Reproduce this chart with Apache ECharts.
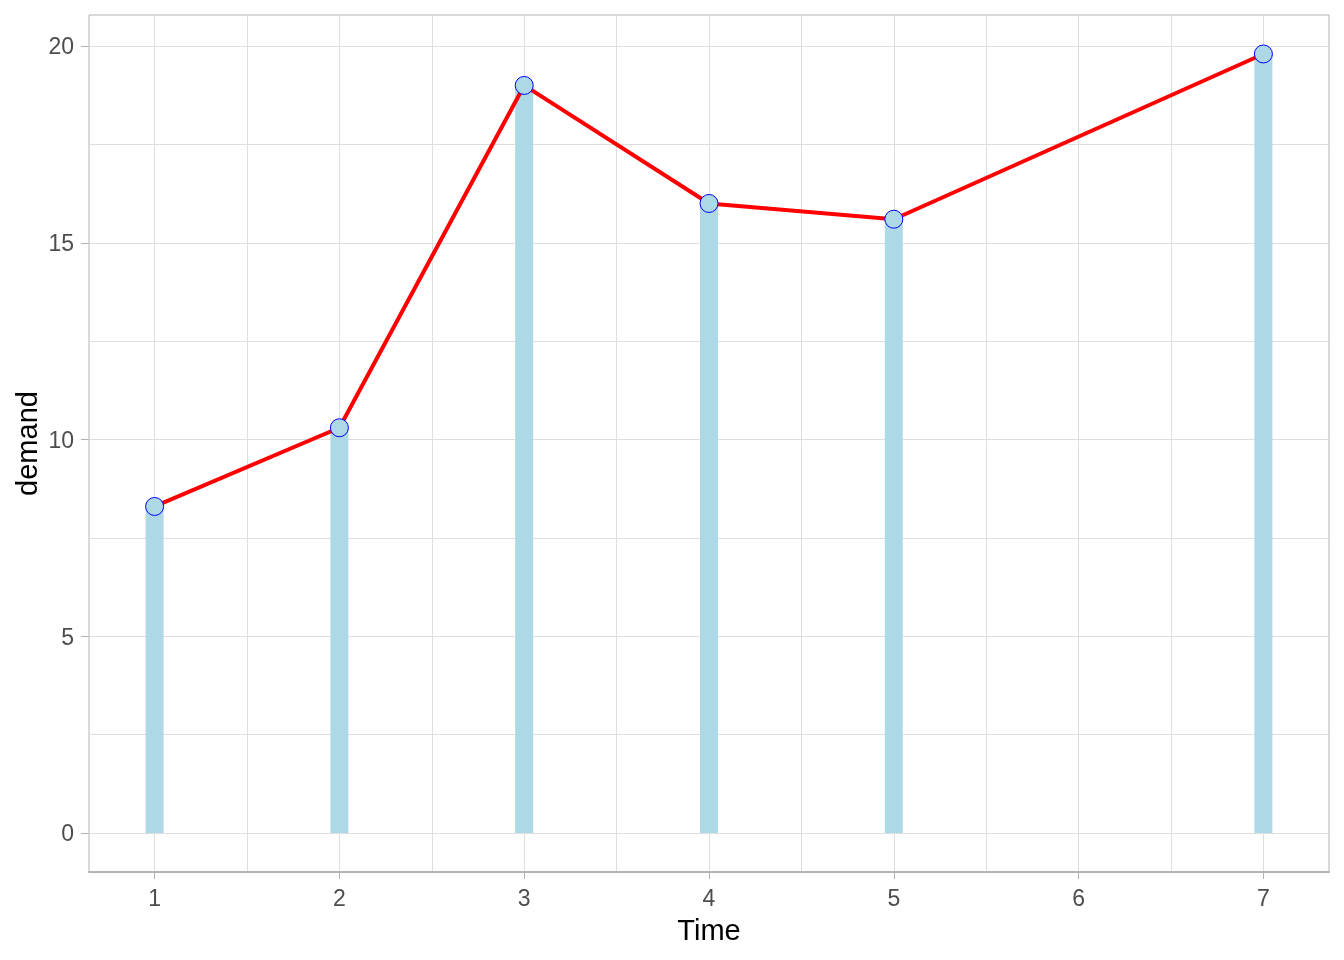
<!DOCTYPE html>
<html>
<head>
<meta charset="utf-8">
<script src="https://cdn.jsdelivr.net/npm/echarts@6/dist/echarts.min.js"></script>
<style>html,body{margin:0;padding:0;background:#fff}#c{width:1344px;height:960px}</style>
</head>
<body>
<div id="c"></div>
<script>
const time = [1, 2, 3, 4, 5, 7];
const demand = [8.3, 10.3, 19.0, 16.0, 15.6, 19.8];
const xMajor = [1, 2, 3, 4, 5, 6, 7];
const xMinor = [1.5, 2.5, 3.5, 4.5, 5.5, 6.5];
const yMajor = [0, 5, 10, 15, 20];
const yMinor = [2.5, 7.5, 12.5, 17.5];

const pts = time.map((t, i) => [t, demand[i]]);
const font = "'Liberation Sans', Arial, sans-serif";
const grid = [];
xMajor.forEach(v => grid.push({xAxis: v}));
xMinor.forEach(v => grid.push({xAxis: v}));
yMajor.forEach(v => grid.push({yAxis: v}));
yMinor.forEach(v => grid.push({yAxis: v}));

const chart = echarts.init(document.getElementById('c'), null, {renderer: 'canvas'});
chart.setOption({
  animation: false,
  backgroundColor: '#ffffff',
  grid: {left: 89, right: 15, top: 15, bottom: 88, show: true, borderColor: '#B3B3B3', borderWidth: 1, backgroundColor: 'transparent'},
  xAxis: {
    type: 'value', min: 0.645, max: 7.355,
    name: 'Time', nameLocation: 'middle', nameGap: 45, nameMoveOverlap: false,
    nameTextStyle: {color: '#000', fontSize: 29, fontFamily: font},
    axisLine: {show: true, onZero: false, lineStyle: {color: '#B3B3B3', width: 2}},
    axisTick: {show: true, length: 7, customValues: xMajor, lineStyle: {color: '#B3B3B3', width: 1}},
    axisLabel: {customValues: xMajor, color: '#4D4D4D', fontSize: 23, fontFamily: font, margin: 16},
    splitLine: {show: false}
  },
  yAxis: {
    type: 'value', min: -0.99, max: 20.79,
    name: 'demand', nameLocation: 'middle', nameGap: 46, nameRotate: 90, nameMoveOverlap: false,
    nameTextStyle: {color: '#000', fontSize: 29, fontFamily: font},
    axisLine: {show: false},
    axisTick: {show: true, length: 8, customValues: yMajor, lineStyle: {color: '#B3B3B3', width: 1}},
    axisLabel: {customValues: yMajor, color: '#4D4D4D', fontSize: 23, fontFamily: font, margin: 15,
      formatter: v => '{a|' + v + '}',
      rich: {a: {color: '#4D4D4D', fontSize: 23, fontFamily: font, padding: [4, 0, 0, 0]}}},
    splitLine: {show: false}
  },
  series: [
    {
      type: 'line', data: [], z: 0, silent: true,
      markLine: {z: 0, silent: true, symbol: ['none', 'none'], label: {show: false}, animation: false,
        lineStyle: {color: '#DEDEDE', width: 1, type: 'solid'}, emphasis: {disabled: true}, data: grid}
    },
    {
      type: 'bar', data: pts, barWidth: 18, itemStyle: {color: '#ADD8E6'}, z: 2
    },
    {
      type: 'line', data: pts, z: 3,
      lineStyle: {color: '#FF0000', width: 4},
      symbol: 'circle', symbolSize: 18,
      itemStyle: {color: '#ADD8E6', borderColor: '#0000FF', borderWidth: 1}
    }
  ]
});
</script>
</body>
</html>
